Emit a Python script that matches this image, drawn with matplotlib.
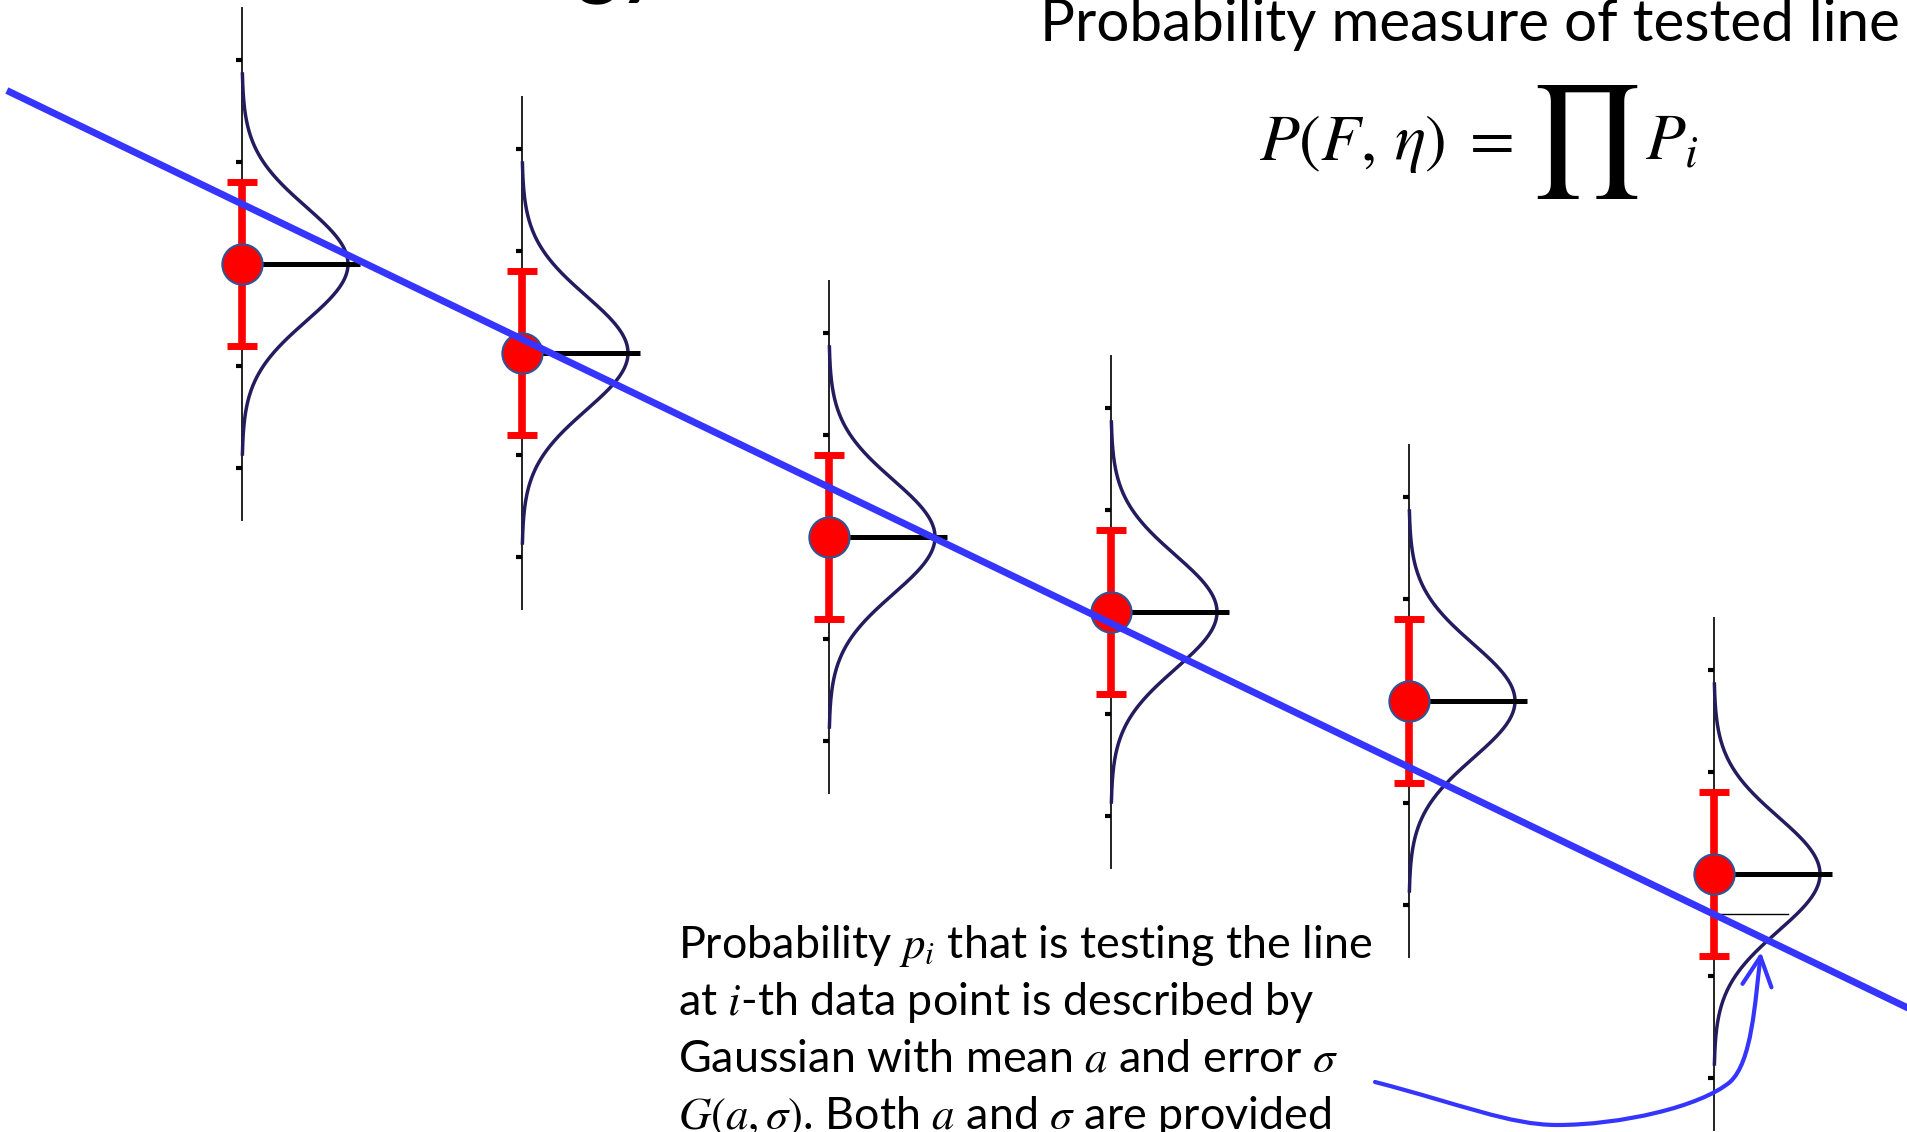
"""Tested line vs. data points with Gaussian errors (illustration)."""

import numpy as np
import matplotlib
matplotlib.use("Agg")
import matplotlib.pyplot as plt
from matplotlib.path import Path
from matplotlib.patches import FancyArrowPatch

# data (1 unit = 100 px of the final picture)
x_pos = [2.42, 5.22, 8.29, 11.11, 14.09, 17.14]
y_val = [8.68, 7.79, 5.95, 5.20, 4.31, 2.58]
y_err = [0.82, 0.82, 0.82, 0.82, 0.82, 0.82]
gauss_sigma = 0.57
gauss_peak = 1.06
tick_offsets = [-2.04, -1.02, 1.02, 2.04]
axis_half = 2.56
line_intercept = 10.448
line_slope = -0.4826

header = "Probability measure of tested line"
formula = r"$P(F,\,\eta)\;=\;$"
body_lines = [
    r"Probability $p_i$ that is testing the line",
    r"at $i$-th data point is described by",
    r"Gaussian with mean $a$ and error $\sigma$",
    r"$G(a,\sigma)$. Both $a$ and $\sigma$ are provided",
]

BLUE = "#3535ff"
NAVY = "#241c5e"

plt.rcParams["font.family"] = ["Lato", "DejaVu Sans"]
plt.rcParams["mathtext.fontset"] = "stix"

fig = plt.figure(figsize=(19.08, 11.32), dpi=100)
ax = fig.add_axes([0, 0, 1, 1])
ax.set_xlim(0, 19.08)
ax.set_ylim(0, 11.32)
ax.axis("off")

for x0, y0, err in zip(x_pos, y_val, y_err):
    # vertical axis with small ticks
    ax.plot([x0, x0], [y0 - axis_half, y0 + axis_half], color="#222222", lw=1.4, zorder=1)
    for t in tick_offsets:
        ax.plot([x0 - 0.06, x0], [y0 + t, y0 + t], color="black", lw=3, zorder=1,
                solid_capstyle="butt")
    # gaussian profile
    yy = np.linspace(y0 - 1.9, y0 + 1.9, 300)
    xx = x0 + gauss_peak * np.exp(-(yy - y0) ** 2 / (2 * gauss_sigma ** 2))
    ax.plot(xx, yy, color=NAVY, lw=2.5, zorder=2)
    # mean marker line
    ax.plot([x0, x0 + 1.18], [y0, y0], color="black", lw=3.6, zorder=2,
            solid_capstyle="butt")
    # error bar and point
    ax.errorbar(x0, y0, yerr=err, fmt="none", ecolor="red", elinewidth=5.5,
                capsize=11, capthick=5, zorder=3)
    ax.plot(x0, y0, "o", ms=29, mfc="red", mec="#2f5597", mew=1.5, zorder=4)

# tested line
xl = np.array([0.10, 19.08])
ax.plot(xl, line_intercept + line_slope * xl, color=BLUE, lw=5, zorder=5)

# level of the line at the last point
x6, y6 = x_pos[-1], y_val[-1]
yl6 = line_intercept + line_slope * x6
g6 = gauss_peak * np.exp(-(yl6 - y6) ** 2 / (2 * gauss_sigma ** 2))
ax.plot([x6, x6 + g6 - 0.08], [yl6, yl6], color="black", lw=1, zorder=2)

# curved arrow from the text to the crossing point
verts = [(13.75, 0.50),
         (14.60, 0.28), (15.10, 0.07), (15.57, 0.07),
         (16.20, 0.07), (17.00, 0.25), (17.30, 0.50),
         (17.52, 0.70), (17.55, 1.30), (17.61, 1.80)]
codes = [Path.MOVETO] + [Path.CURVE4] * 9
arrow = FancyArrowPatch(path=Path(verts, codes),
                        arrowstyle="->,head_length=0.7,head_width=0.35",
                        mutation_scale=30, color=BLUE, lw=3, zorder=6)
ax.add_patch(arrow)

# texts
ax.text(6.62, 11.44, "Methodology", fontsize=58, fontweight="bold", ha="right",
        va="baseline", clip_on=False)
ax.text(19.00, 11.32 - 0.41, header, fontsize=42, ha="right", va="baseline")
ax.text(12.59, 11.32 - 1.60, formula, fontsize=47, ha="left", va="baseline")
ax.text(15.85, 11.32 - 1.42, r"$\prod$", fontsize=80, ha="center", va="center")
ax.text(16.45, 11.32 - 1.60, r"$P_i$", fontsize=47, ha="left", va="baseline")

for k, line in enumerate(body_lines):
    ax.text(6.78, 11.32 - 9.58 - 0.57 * k, line, fontsize=32.3, ha="left", va="baseline")

fig.savefig("out.png", dpi=100)
